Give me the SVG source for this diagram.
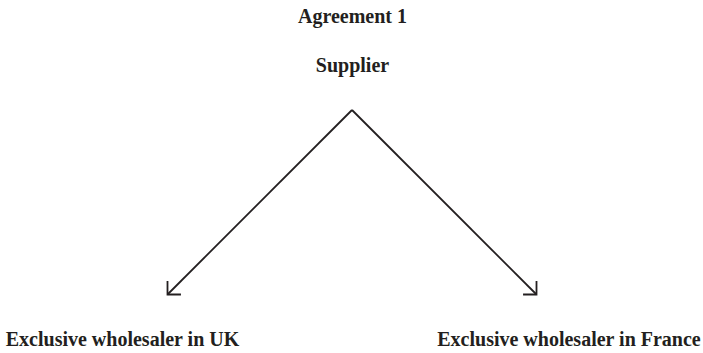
<svg xmlns="http://www.w3.org/2000/svg" width="703" height="353" viewBox="0 0 703 353">
<style>
  text { font-family: "Liberation Serif", "Times New Roman", serif; font-weight: bold; font-size: 20px; fill: #231f20; }
  .conn { stroke: #231f20; stroke-width: 1.8; fill: none; }
</style>
<defs>
  <marker id="arrow" viewBox="0 0 20 20" refX="14" refY="10" markerWidth="20" markerHeight="20" markerUnits="userSpaceOnUse" orient="auto">
    <path d="M4.5,0.5 L14,10 L4.5,19.5" fill="none" stroke="#231f20" stroke-width="1.8" stroke-linejoin="miter"/>
  </marker>
</defs>
<rect width="703" height="353" fill="#ffffff"/>
<g id="title">
  <text x="352.5" y="23" text-anchor="middle">Agreement 1</text>
</g>
<g id="supplier">
  <text x="352.5" y="72" text-anchor="middle">Supplier</text>
</g>
<g id="wholesaler-uk">
  <text x="122.5" y="346" text-anchor="middle">Exclusive wholesaler in UK</text>
</g>
<g id="wholesaler-france">
  <text x="569" y="346" text-anchor="middle">Exclusive wholesaler in France</text>
</g>
<g id="connectors">
  <path class="conn" d="M352,110 L167.5,294.5" marker-end="url(#arrow)"/>
  <path class="conn" d="M352,110 L536.5,294.5" marker-end="url(#arrow)"/>
</g>
</svg>
